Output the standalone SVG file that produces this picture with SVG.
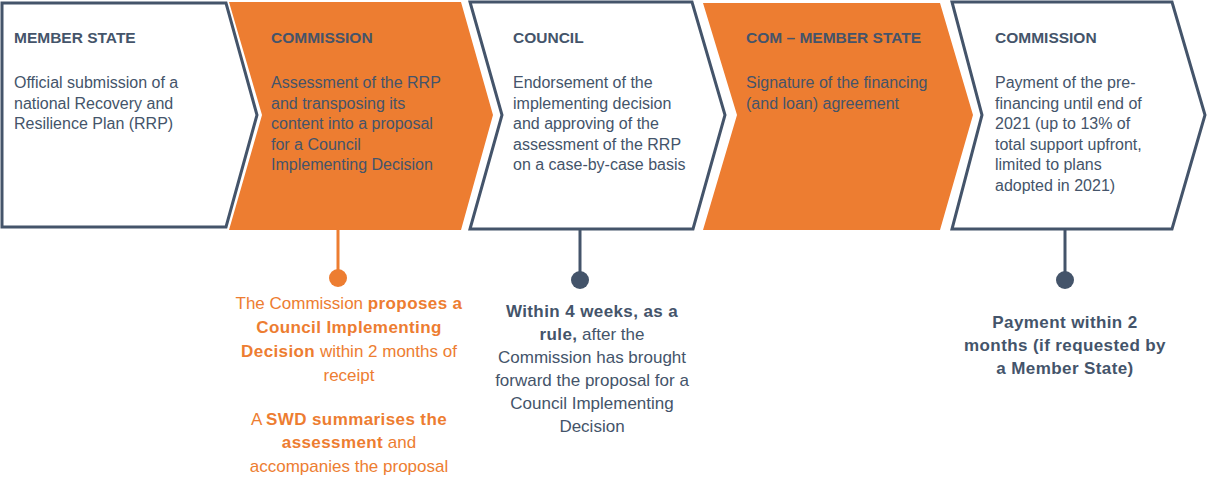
<svg xmlns="http://www.w3.org/2000/svg" width="1207" height="478" viewBox="0 0 1207 478">
<style>
.w{fill:#ffffff;stroke:#44546a;stroke-width:3;stroke-linejoin:miter}
.o{fill:#ed7d31;stroke:none}
.t{font-family:"Liberation Sans",Arial,sans-serif;font-size:15.5px;font-weight:bold;fill:#44546a}
.b{font-family:"Liberation Sans",Arial,sans-serif;font-size:16px;fill:#44546a}
.bo{font-family:"Liberation Sans",Arial,sans-serif;font-size:17px;fill:#ed7d31;text-anchor:middle}
.bd{font-family:"Liberation Sans",Arial,sans-serif;font-size:17px;fill:#44546a;text-anchor:middle}
.k{font-weight:bold;letter-spacing:0.4px}
</style>
<rect width="1207" height="478" fill="#ffffff"/>
<g id="node-member-state">
<polygon class="w" points="2,3 226,3 257,115 226,227 2,227"/>
<text class="t" x="14" y="43">MEMBER STATE</text>
<text class="b" x="14" y="88">Official submission of a</text>
<text class="b" x="14" y="108.5">national Recovery and</text>
<text class="b" x="14" y="129">Resilience Plan (RRP)</text>
</g>
<g id="node-commission-1">
<polygon class="o" points="229,2 461,2 493,115 461,230 229,230 262,115"/>
<text class="t" x="271" y="43">COMMISSION</text>
<text class="b" x="271" y="88">Assessment of the RRP</text>
<text class="b" x="271" y="108.5">and transposing its</text>
<text class="b" x="271" y="129">content into a proposal</text>
<text class="b" x="271" y="149.5">for a Council</text>
<text class="b" x="271" y="170">Implementing Decision</text>
</g>
<g id="node-council">
<polygon class="w" points="470,2 692,2 725,115 693,229 470,229 502,115"/>
<text class="t" x="513" y="43">COUNCIL</text>
<text class="b" x="513" y="88">Endorsement of the</text>
<text class="b" x="513" y="108.5">implementing decision</text>
<text class="b" x="513" y="129">and approving of the</text>
<text class="b" x="513" y="149.5">assessment of the RRP</text>
<text class="b" x="513" y="170">on a case-by-case basis</text>
</g>
<g id="node-com-member-state">
<polygon class="o" points="703,3 940,3 973,115 940,230 703,230 737,115"/>
<text class="t" x="746" y="43">COM – MEMBER STATE</text>
<text class="b" x="746" y="88">Signature of the financing</text>
<text class="b" x="746" y="108.5">(and loan) agreement</text>
</g>
<g id="node-commission-2">
<polygon class="w" points="952,2 1172,2 1205,115 1172,229 952,229 982,115"/>
<text class="t" x="995" y="43">COMMISSION</text>
<text class="b" x="995" y="88">Payment of the pre-</text>
<text class="b" x="995" y="108.5">financing until end of</text>
<text class="b" x="995" y="129">2021 (up to 13% of</text>
<text class="b" x="995" y="149.5">total support upfront,</text>
<text class="b" x="995" y="170">limited to plans</text>
<text class="b" x="995" y="190.5">adopted in 2021)</text>
</g>
<g id="connectors">
<line x1="338" y1="230" x2="338" y2="278" stroke="#ed7d31" stroke-width="3"/>
<circle cx="338" cy="278" r="9" fill="#ed7d31"/>
<line x1="580" y1="230" x2="580" y2="280" stroke="#44546a" stroke-width="3"/>
<circle cx="580" cy="280" r="9" fill="#44546a"/>
<line x1="1065" y1="230" x2="1065" y2="280" stroke="#44546a" stroke-width="3"/>
<circle cx="1065" cy="280" r="9" fill="#44546a"/>
</g>
<g id="note-commission">
<text class="bo" x="349" y="309">The Commission <tspan class="k">proposes a</tspan></text>
<text class="bo" x="349" y="333"><tspan class="k">Council Implementing</tspan></text>
<text class="bo" x="349" y="357"><tspan class="k">Decision</tspan> within 2 months of</text>
<text class="bo" x="349" y="381">receipt</text>
<text class="bo" x="349" y="425">A <tspan class="k">SWD summarises the</tspan></text>
<text class="bo" x="349" y="448"><tspan class="k">assessment</tspan> and</text>
<text class="bo" x="349" y="472">accompanies the proposal</text>
</g>
<g id="note-council">
<text class="bd" x="592" y="317"><tspan class="k">Within 4 weeks, as a</tspan></text>
<text class="bd" x="592" y="340"><tspan class="k">rule,</tspan> after the</text>
<text class="bd" x="592" y="363">Commission has brought</text>
<text class="bd" x="592" y="386">forward the proposal for a</text>
<text class="bd" x="592" y="409">Council Implementing</text>
<text class="bd" x="592" y="432">Decision</text>
</g>
<g id="note-payment">
<text class="bd k" x="1065" y="328">Payment within 2</text>
<text class="bd k" x="1065" y="351">months (if requested by</text>
<text class="bd k" x="1065" y="374">a Member State)</text>
</g>
</svg>
